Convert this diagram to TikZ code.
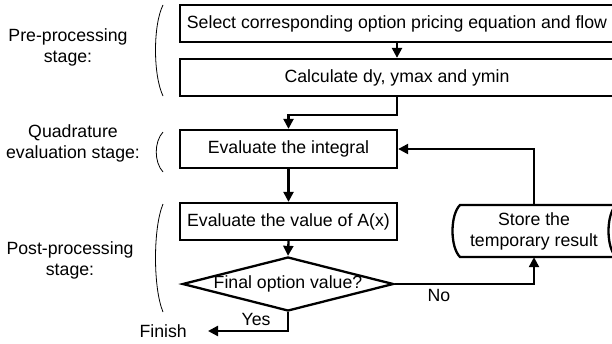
\documentclass[tikz,border=0pt]{standalone}
\usepackage{fontspec}
\setmainfont{Liberation Sans}
\usetikzlibrary{shapes.geometric,arrows.meta,calc}
\begin{document}
\begin{tikzpicture}[x=1pt,y=-1pt,
  font=\fontsize{17.7}{21}\selectfont,
  procbox/.style={draw,line width=2.3pt,rectangle,inner sep=0pt,anchor=center},
  conn/.style={line width=2.3pt,-{Triangle[length=10pt,width=10pt]}},
  plain/.style={line width=2.3pt},
  paren/.style={line width=0.8pt},
  stagelbl/.style={align=center,inner sep=0pt}]
\useasboundingbox (0,0) rectangle (612,343);
\clip (0,0) rectangle (612,343);
\fill[white] (0,0) rectangle (612,343);

% process boxes
\node[procbox,minimum width=434,minimum height=37] (b1) at (397,23.5) {Select corresponding option pricing equation and flow};
\node[procbox,minimum width=434,minimum height=37] (b2) at (397,77.5) {Calculate dy, ymax and ymin};
\node[procbox,minimum width=217,minimum height=38] (b3) at (288.5,149) {Evaluate the integral};
\node[procbox,minimum width=217,minimum height=37] (b4) at (288.5,221.5) {Evaluate the value of A(x)};
\node[diamond,draw,line width=2.3pt,minimum width=211,minimum height=54,inner sep=0pt] (d) at (288,284) {};
\node[inner sep=0pt] (dl) at (d.center) {Final option value?};

% stored data shape
\node[align=center,inner sep=0pt,minimum height=52] (store) at (534,231) {Store the\\temporary result};
\draw[plain] (460,205) -- (616,205) .. controls (606,215) and (606,247) .. (616,257) -- (460,257) .. controls (450,247) and (450,215) .. (460,205) -- cycle;

\node[anchor=east,inner sep=0pt] (fin) at (187,331) {Finish};
\node[inner sep=0pt] (yes) at (256,319) {Yes};
\node[inner sep=0pt] (no) at (439,295) {No};

% connectors
\draw[conn] (b1.south) -- (b2.north);
\draw[conn] (b2.south) -- ++(0,18) -| (b3.north);
\draw[conn] (b3.south) -- (b4.north);
\draw[conn] (b4.south) -- (d.north);
\draw[conn] (d.south) |- ([xshift=21pt]fin.east);
\draw[conn] (d.east) -| (store.south);
\draw[conn] (store.north) |- (b3.east);

% stage labels
\node[stagelbl] (l1) at (68,47) {Pre-processing\\stage:};
\node[stagelbl] (l2) at (73,143) {Quadrature\\evaluation stage:};
\node[stagelbl] (l3) at (70,260) {Post-processing\\stage:};

% parentheses
\draw[paren] (163,5) .. controls (153,25) and (153,75) .. (163,96);
\draw[paren] (163,132) .. controls (154,142) and (154,162) .. (163,172);
\draw[paren] (163,204) .. controls (153,228) and (153,288) .. (163,312);
\end{tikzpicture}
\end{document}
